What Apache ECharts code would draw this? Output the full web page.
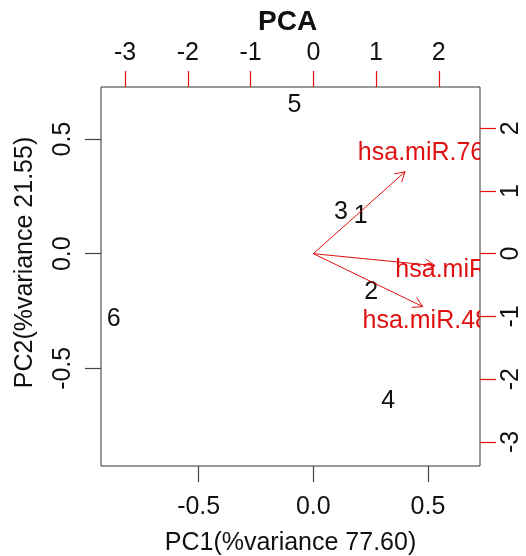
<!DOCTYPE html>
<html>
<head>
<meta charset="utf-8">
<script src="https://cdn.jsdelivr.net/npm/echarts@6.0.0/dist/echarts.min.js"></script>
<style>
  html, body { margin: 0; padding: 0; background: #fff; }
  #chart { width: 526px; height: 556px; }
</style>
</head>
<body>
<div id="chart"></div>
<script>
// sample scores (PC1, PC2)
const sampleLabels = ['1', '2', '3', '4', '5', '6'];
const pc1 = [0.207, 0.252, 0.120, 0.327, -0.082, -0.871];
const pc2 = [0.169, -0.161, 0.190, -0.635, 0.653, -0.279];

// variable loadings (top / right axes)
const mirNames = ['hsa.miR.765', 'hsa.miR.720', 'hsa.miR.483.5p'];
const load1 = [1.828, 2.426, 2.180];
const load2 = [1.633, -0.239, -1.055];

const scoreTicks = [-0.5, 0, 0.5];
const loadTicks = [-3, -2, -1, 0, 1, 2];
const scoreRange = [-0.926, 0.727];
const loadRange = [-3.385, 2.657];

const FONT = 'Liberation Sans, Arial, Helvetica, sans-serif';
const RED = '#e01010';
const INK = '#111';

const chart = echarts.init(document.getElementById('chart'), null, { renderer: 'canvas' });

function axis(color, opts) {
    return Object.assign({
        type: 'value',
        splitLine: { show: false },
        minorTick: { show: false },
        axisLine: { show: false, onZero: false, lineStyle: { color: color } },
        nameTextStyle: { fontFamily: FONT, fontSize: 25, color: INK }
    }, opts);
}

function ticks(values, color) {
    return { show: true, customValues: values, length: 16, lineStyle: { color: color, width: 1.2 } };
}

const scoreFmt = v => v.toFixed(1);

const option = {
    backgroundColor: '#fff',
    animation: false,
    title: {
        text: 'PCA',
        left: 253,
        top: 3,
        textStyle: { fontFamily: FONT, fontSize: 28, fontWeight: 'bold', color: INK }
    },
    grid: {
        left: 101, top: 87, right: 46, bottom: 90,
        outerBoundsMode: 'none',
        containLabel: false,
        show: true, borderColor: '#333', borderWidth: 1, backgroundColor: 'transparent'
    },
    xAxis: [
        axis('#444', {
            position: 'bottom',
            min: scoreRange[0], max: scoreRange[1],
            name: 'PC1(%variance 77.60)', nameLocation: 'middle', nameGap: 65,
            axisTick: ticks(scoreTicks, '#444'),
            axisLabel: { customValues: scoreTicks, formatter: scoreFmt, fontFamily: FONT, fontSize: 25, color: INK, margin: 29 }
        }),
        axis(RED, {
            position: 'top',
            min: loadRange[0], max: loadRange[1],
            axisTick: ticks(loadTicks, RED),
            axisLabel: { customValues: loadTicks, fontFamily: FONT, fontSize: 25, color: INK, margin: 21 }
        })
    ],
    yAxis: [
        axis('#444', {
            position: 'left',
            min: scoreRange[0], max: scoreRange[1],
            name: 'PC2(%variance 21.55)', nameLocation: 'middle', nameGap: 63,
            nameTextStyle: { fontFamily: FONT, fontSize: 25, color: INK, padding: [0, 0, 0, 28] },
            axisTick: ticks(scoreTicks, '#444'),
            axisLabel: { customValues: scoreTicks, formatter: scoreFmt, rotate: 90, fontFamily: FONT, fontSize: 25, color: INK, margin: 25 }
        }),
        axis(RED, {
            position: 'right',
            min: loadRange[0], max: loadRange[1],
            axisTick: ticks(loadTicks, RED),
            axisLabel: { customValues: loadTicks, rotate: 90, fontFamily: FONT, fontSize: 25, color: INK, margin: 19 }
        })
    ],
    series: [
        {
            type: 'custom',
            xAxisIndex: 0, yAxisIndex: 0,
            clip: true,
            data: pc1.map((x, i) => [x, pc2[i], sampleLabels[i]]),
            renderItem: (params, api) => {
                const p = api.coord([api.value(0), api.value(1)]);
                return {
                    type: 'text',
                    style: {
                        text: sampleLabels[params.dataIndex],
                        x: p[0], y: p[1] + 1.5,
                        align: 'center', verticalAlign: 'middle',
                        fill: INK, fontSize: 25, fontFamily: FONT
                    }
                };
            }
        },
        {
            type: 'custom',
            xAxisIndex: 1, yAxisIndex: 1,
            clip: true,
            data: load1.map((x, i) => [x, load2[i]]),
            renderItem: (params, api) => {
                const lx = api.value(0), ly = api.value(1);
                const o = api.coord([0, 0]);
                const tip = api.coord([lx * 0.8, ly * 0.8]);
                const lab = api.coord([lx, ly]);
                const ang = Math.atan2(tip[1] - o[1], tip[0] - o[0]);
                const head = 11, spread = Math.PI / 6;
                const h1 = [tip[0] - head * Math.cos(ang - spread), tip[1] - head * Math.sin(ang - spread)];
                const h2 = [tip[0] - head * Math.cos(ang + spread), tip[1] - head * Math.sin(ang + spread)];
                const ls = { stroke: RED, lineWidth: 1 };
                return {
                    type: 'group',
                    children: [
                        { type: 'line', shape: { x1: o[0], y1: o[1], x2: tip[0], y2: tip[1] }, style: ls },
                        { type: 'line', shape: { x1: tip[0], y1: tip[1], x2: h1[0], y2: h1[1] }, style: ls },
                        { type: 'line', shape: { x1: tip[0], y1: tip[1], x2: h2[0], y2: h2[1] }, style: ls },
                        {
                            type: 'text',
                            style: {
                                text: mirNames[params.dataIndex],
                                x: lab[0], y: lab[1] + 1.5,
                                align: 'center', verticalAlign: 'middle',
                                fill: RED, fontSize: 25, fontFamily: FONT
                            }
                        }
                    ]
                };
            }
        }
    ]
};

chart.setOption(option);
</script>
</body>
</html>
